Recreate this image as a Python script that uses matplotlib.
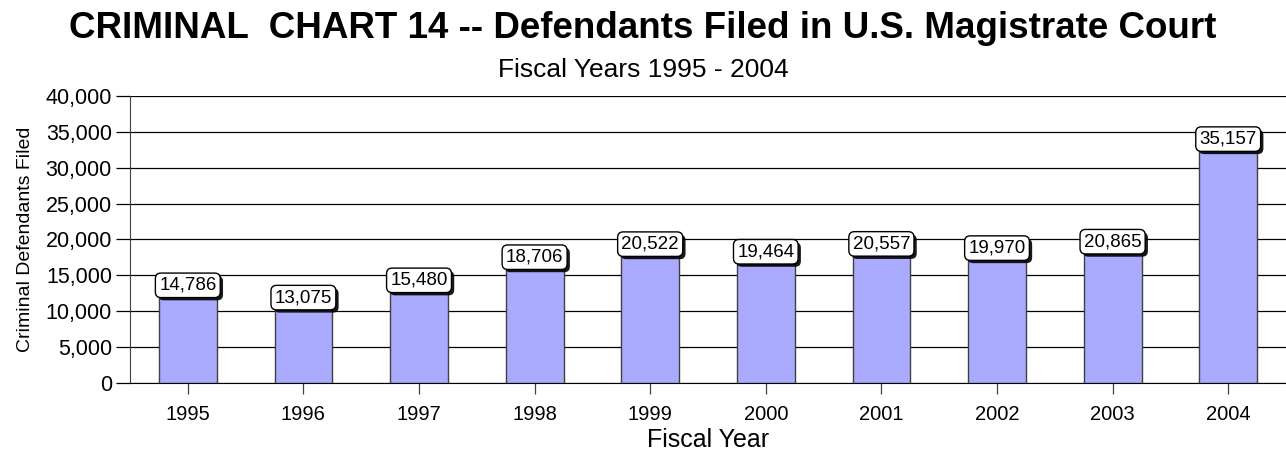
import numpy as np
import matplotlib.pyplot as plt
from matplotlib.ticker import FuncFormatter
from matplotlib.patheffects import SimplePatchShadow, Normal

# ---------------------------------------------------
# Data
# ---------------------------------------------------

years = ["1995", "1996", "1997", "1998", "1999",
         "2000", "2001", "2002", "2003", "2004"]
defendants = [14786, 13075, 15480, 18706, 20522,
              19464, 20557, 19970, 20865, 35157]

# ---------------------------------------------------
# Plot
# ---------------------------------------------------

plt.rcParams["font.family"] = ["Liberation Sans", "DejaVu Sans"]

fig = plt.figure(figsize=(12.86, 4.5), dpi=100)
ax = fig.add_axes([0.1011, 0.149, 0.8989, 0.638])

x = np.arange(len(years))
ax.bar(x, defendants, width=0.5, color="#aaaaff",
       edgecolor="#404040", linewidth=1.0, zorder=3)

# value boxes sit on top of each bar, with a small drop shadow
for xi, v in zip(x, defendants):
    t = ax.text(xi, v, f"{v:,}", ha="center", va="top", fontsize=13.5,
                zorder=5,
                bbox=dict(boxstyle="round,pad=0.2,rounding_size=0.3",
                          fc="white", ec="black", lw=1.0))
    t.get_bbox_patch().set_path_effects(
        [SimplePatchShadow(offset=(2, -2), shadow_rgbFace="black", alpha=0.9),
         Normal()])

ax.set_xlim(-0.5, len(years) - 0.5)
ax.set_ylim(0, 40000)
ax.set_yticks(np.arange(0, 40001, 5000))
ax.yaxis.set_major_formatter(FuncFormatter(lambda v, p: f"{int(v):,}"))
ax.set_xticks(x)
ax.set_xticklabels(years)

ax.yaxis.grid(True, color="black", linewidth=0.9, zorder=0)
ax.set_axisbelow(True)

for side in ["top", "right"]:
    ax.spines[side].set_visible(False)
ax.spines["left"].set_color("#404040")
ax.spines["bottom"].set_color("black")

ax.tick_params(axis="y", length=10, width=0.9, labelsize=15.5, pad=3)
ax.tick_params(axis="x", length=8, width=0.9, labelsize=14.5, pad=8,
               color="#404040")

ax.set_xlabel("Fiscal Year", fontsize=18, labelpad=3)
ax.set_ylabel("Criminal Defendants Filed", fontsize=14,
              family=["Liberation Sans Narrow", "Liberation Sans"],
              labelpad=8)

fig.text(0.5, 0.937, "CRIMINAL  CHART 14 -- Defendants Filed in U.S. Magistrate Court",
         ha="center", va="center", fontsize=26.5, fontweight="bold")
fig.text(0.5, 0.845, "Fiscal Years 1995 - 2004",
         ha="center", va="center", fontsize=19)

fig.savefig("out.png", dpi=100)
